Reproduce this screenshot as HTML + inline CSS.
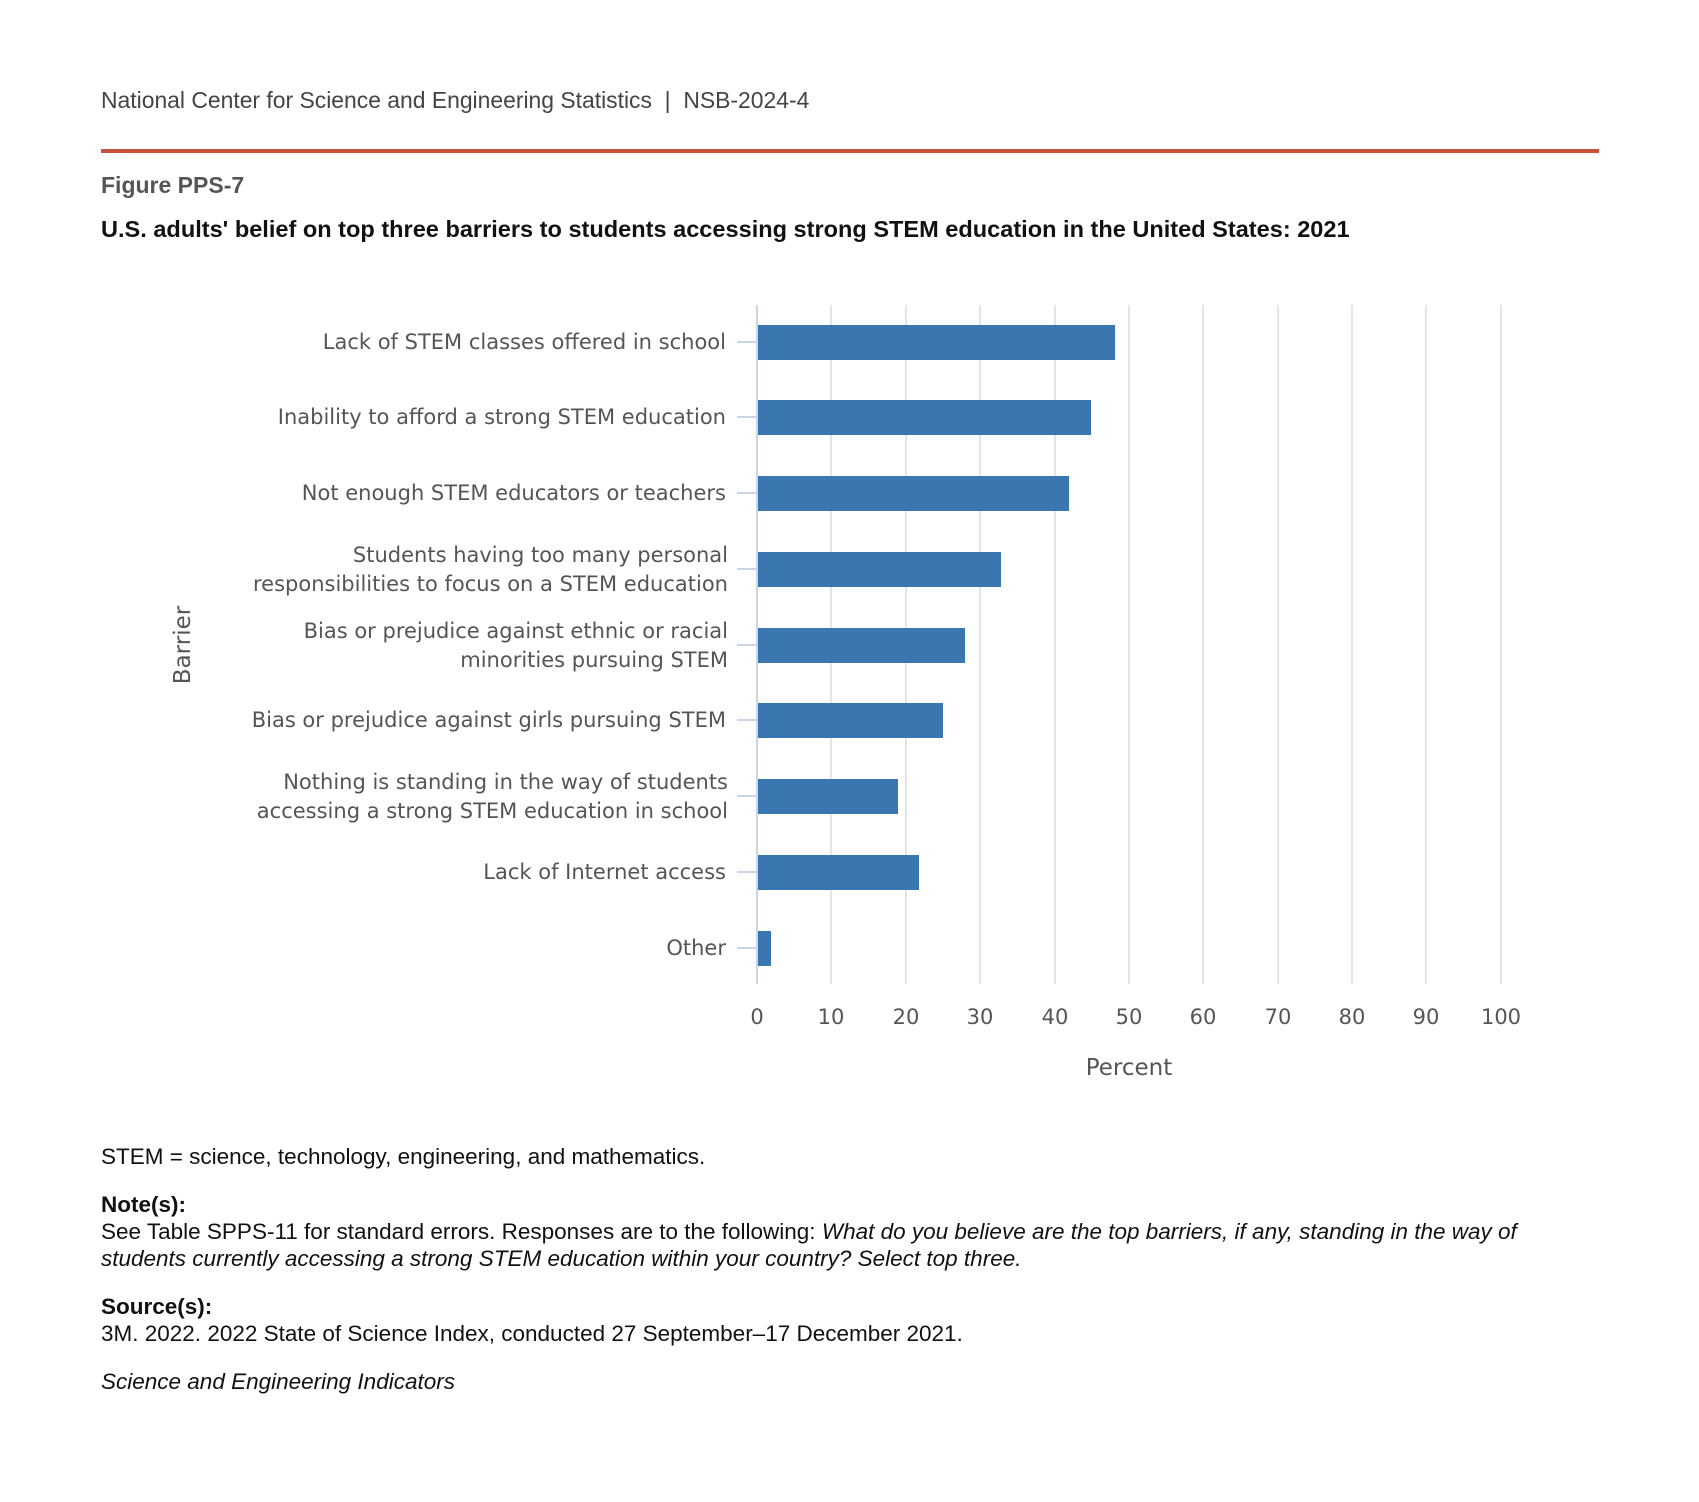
<!DOCTYPE html>
<html><head><meta charset="utf-8"><style>
body{margin:0;width:1699px;height:1502px;background:#fff;font-family:"Liberation Sans",sans-serif;position:relative;overflow:hidden}
.a{position:absolute;white-space:nowrap}
</style></head><body>
<div class="a" style="left:101px;top:87px;font-size:22.9px;color:#444">National Center for Science and Engineering Statistics &nbsp;|&nbsp; NSB-2024-4</div>
<div class="a" style="left:101px;top:149px;width:1498px;height:4px;background:#c9503c"></div>
<div class="a" style="left:101px;top:172px;font-size:23px;font-weight:bold;color:#555">Figure PPS-7</div>
<div class="a" style="left:101px;top:216px;font-size:23.55px;font-weight:bold;color:#111">U.S. adults' belief on top three barriers to students accessing strong STEM education in the United States: 2021</div>
<svg class="a" style="left:0;top:0" width="1699" height="1502" font-family="DejaVu Sans, sans-serif" fill="#555">
<g stroke="#e4e4e4" stroke-width="2">
<line x1="831" y1="305" x2="831" y2="984"/><line x1="906" y1="305" x2="906" y2="984"/><line x1="980" y1="305" x2="980" y2="984"/><line x1="1055" y1="305" x2="1055" y2="984"/><line x1="1129" y1="305" x2="1129" y2="984"/><line x1="1203" y1="305" x2="1203" y2="984"/><line x1="1278" y1="305" x2="1278" y2="984"/><line x1="1352" y1="305" x2="1352" y2="984"/><line x1="1426" y1="305" x2="1426" y2="984"/><line x1="1501" y1="305" x2="1501" y2="984"/>
</g>
<line x1="757" y1="305" x2="757" y2="984" stroke="#c9d6ea" stroke-width="2"/>
<g stroke="#c9d6ea" stroke-width="2">
<line x1="737" y1="342" x2="757" y2="342"/><line x1="737" y1="417" x2="757" y2="417"/><line x1="737" y1="493" x2="757" y2="493"/><line x1="737" y1="569" x2="757" y2="569"/><line x1="737" y1="645" x2="757" y2="645"/><line x1="737" y1="720" x2="757" y2="720"/><line x1="737" y1="796" x2="757" y2="796"/><line x1="737" y1="872" x2="757" y2="872"/><line x1="737" y1="948" x2="757" y2="948"/>
</g>
<g fill="#3a76b0">
<rect x="758" y="325" width="357" height="35"/><rect x="758" y="400" width="333" height="35"/><rect x="758" y="476" width="311" height="35"/><rect x="758" y="552" width="243" height="35"/><rect x="758" y="628" width="207" height="35"/><rect x="758" y="703" width="185" height="35"/><rect x="758" y="779" width="140" height="35"/><rect x="758" y="855" width="161" height="35"/><rect x="758" y="931" width="13" height="35"/>
</g>
<g font-size="21" text-anchor="end">
<text x="726" y="349">Lack of STEM classes offered in school</text>
<text x="726" y="424">Inability to afford a strong STEM education</text>
<text x="726" y="500">Not enough STEM educators or teachers</text>
<text x="728" y="562">Students having too many personal</text>
<text x="728" y="591">responsibilities to focus on a STEM education</text>
<text x="728" y="638">Bias or prejudice against ethnic or racial</text>
<text x="728" y="667">minorities pursuing STEM</text>
<text x="726" y="727">Bias or prejudice against girls pursuing STEM</text>
<text x="728" y="789">Nothing is standing in the way of students</text>
<text x="728" y="818">accessing a strong STEM education in school</text>
<text x="726" y="879">Lack of Internet access</text>
<text x="726" y="955">Other</text>
</g>
<g font-size="21" text-anchor="middle">
<text x="757" y="1024">0</text><text x="831" y="1024">10</text><text x="906" y="1024">20</text><text x="980" y="1024">30</text><text x="1055" y="1024">40</text><text x="1129" y="1024">50</text><text x="1203" y="1024">60</text><text x="1278" y="1024">70</text><text x="1352" y="1024">80</text><text x="1426" y="1024">90</text><text x="1501" y="1024">100</text>
<text x="1129" y="1075" font-size="23">Percent</text>
<text transform="translate(190,645) rotate(-90)" font-size="23">Barrier</text>
</g>
</svg>
<div class="a" style="left:101px;top:1144px;font-size:22.5px;color:#111">STEM = science, technology, engineering, and mathematics.</div>
<div class="a" style="left:101px;top:1192px;font-size:22.5px;color:#111;font-weight:bold">Note(s):</div>
<div class="a" style="left:101px;top:1218px;font-size:22.5px;color:#111;line-height:27px">See Table SPPS-11 for standard errors. Responses are to the following: <i>What do you believe are the top barriers, if any, standing in the way of</i><br><i>students currently accessing a strong STEM education within your country? Select top three.</i></div>
<div class="a" style="left:101px;top:1294px;font-size:22.5px;color:#111;font-weight:bold">Source(s):</div>
<div class="a" style="left:101px;top:1321px;font-size:22.5px;color:#111">3M. 2022. 2022 State of Science Index, conducted 27 September–17 December 2021.</div>
<div class="a" style="left:101px;top:1369px;font-size:22.5px;color:#111;font-style:italic">Science and Engineering Indicators</div>
</body></html>
